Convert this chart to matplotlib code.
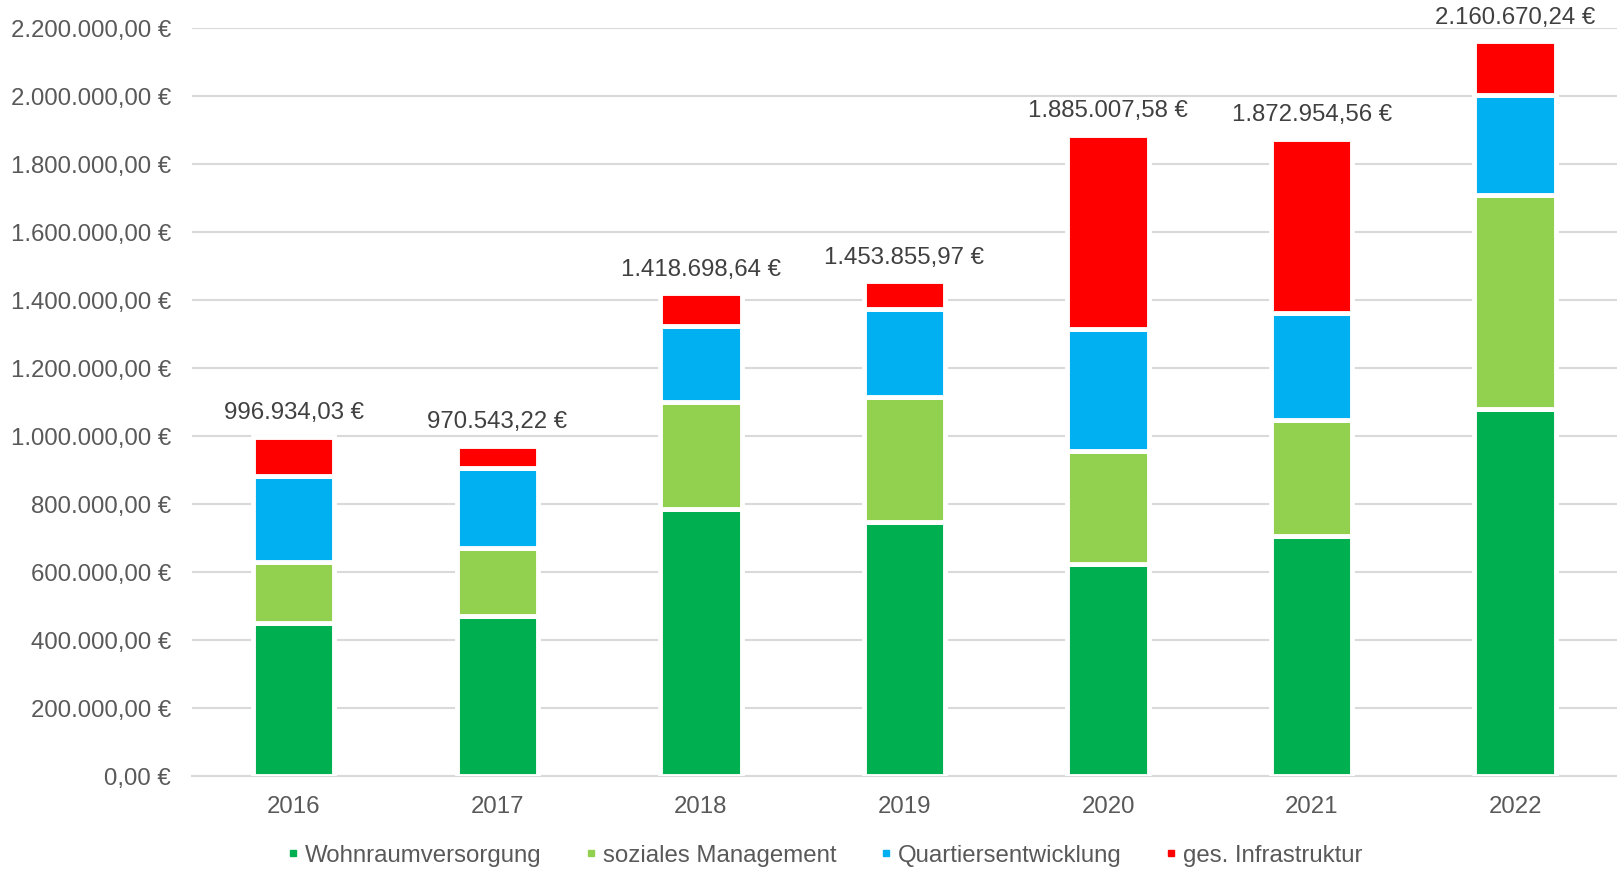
import matplotlib.pyplot as plt
from matplotlib.ticker import FuncFormatter
from matplotlib.lines import Line2D

plt.rcParams['font.family'] = ['Liberation Sans', 'DejaVu Sans']

# Data
years = ["2016", "2017", "2018", "2019", "2020", "2021", "2022"]
wohnraum = [450000, 470000, 783000, 747000, 622000, 704000, 1080000]
sozial = [178000, 201000, 316000, 367000, 334000, 343000, 629000]
quartier = [252000, 233000, 224000, 258000, 358000, 313000, 294000]
totals = [996934.03, 970543.22, 1418698.64, 1453855.97, 1885007.58, 1872954.56, 2160670.24]
infra = [t - a - b - c for t, a, b, c in zip(totals, wohnraum, sozial, quartier)]

series = [
    ("Wohnraumversorgung", wohnraum, "#00B050"),
    ("soziales Management", sozial, "#92D050"),
    ("Quartiersentwicklung", quartier, "#00B0F0"),
    ("ges. Infrastruktur", infra, "#FF0000"),
]


def euro(v, pos=None):
    s = f"{v:,.2f}".replace(",", "X").replace(".", ",").replace("X", ".")
    return s + " €"


fig = plt.figure(figsize=(16.17, 8.70), dpi=100)
ax = fig.add_axes([0.1187, 0.1074, 0.8813, 0.8594])

x = range(len(years))
bottom = [0] * len(years)
for name, vals, col in series:
    ax.bar(x, vals, bottom=bottom, width=0.40, color=col,
           edgecolor="white", linewidth=3.5, zorder=3)
    bottom = [b + v for b, v in zip(bottom, vals)]

# total labels
for i, t in enumerate(totals):
    ax.text(i, t + 40000, euro(t), ha="center", va="bottom",
            fontsize=17.3, color="#404040")

ax.set_xlim(-0.5, len(years) - 0.5)
ax.set_ylim(0, 2200000)
ax.set_yticks(range(0, 2200001, 200000))
ax.yaxis.set_major_formatter(FuncFormatter(euro))
ax.set_xticks(list(x))
ax.set_xticklabels(years)
ax.tick_params(axis="both", length=0, labelsize=17.3, labelcolor="#595959")
ax.tick_params(axis="y", pad=15)
ax.tick_params(axis="x", pad=14)
ax.grid(axis="y", color="#D9D9D9", linewidth=1.5, zorder=0)
for s in ["top", "right", "left"]:
    ax.spines[s].set_visible(False)
ax.spines["bottom"].set_color("#D9D9D9")
ax.spines["bottom"].set_linewidth(1.5)

handles = [Line2D([], [], marker="s", linestyle="", color=c, markersize=4.5)
           for _, _, c in series]
fig.legend(handles, [n for n, _, _ in series], loc="center",
           bbox_to_anchor=(0.508, 0.016), ncol=4, frameon=False,
           fontsize=17.3, labelcolor="#595959", handletextpad=0.0,
           columnspacing=1.55, handlelength=1.0)

plt.savefig("out.png", dpi=100)
